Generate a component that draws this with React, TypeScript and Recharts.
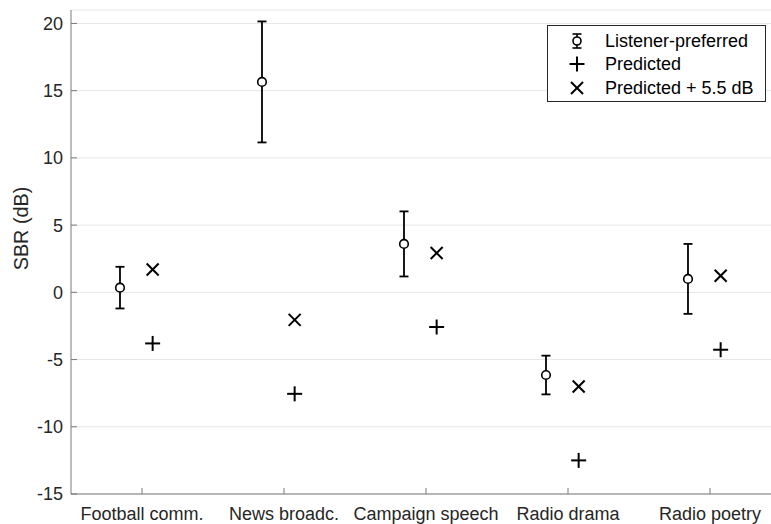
import React from 'react';
import { ScatterChart, Scatter, XAxis, YAxis, CartesianGrid, ErrorBar } from 'recharts';

const categories = ['Football comm.', 'News broadc.', 'Campaign speech', 'Radio drama', 'Radio poetry'];
const listenerPreferred = [0.35, 15.65, 3.6, -6.15, 1.0];
const listenerError = [1.55, 4.5, 2.42, 1.44, 2.6];
const predicted = [-3.8, -7.55, -2.58, -12.5, -4.27];
const predictedPlus = [1.7, -2.05, 2.92, -7.0, 1.23];
const yTicks = [-15, -10, -5, 0, 5, 10, 15, 20];
const xTicks = [1, 2, 3, 4, 5];
const legendLabels = ['Listener-preferred', 'Predicted', 'Predicted + 5.5 dB'];

const LP_OFFSET = -0.155;
const PRED_OFFSET = 0.075;

const lpData = categories.map((c, i) => ({ x: i + 1 + LP_OFFSET, y: listenerPreferred[i], err: listenerError[i] }));
const predData = categories.map((c, i) => ({ x: i + 1 + PRED_OFFSET, y: predicted[i] }));
const plusData = categories.map((c, i) => ({ x: i + 1 + PRED_OFFSET, y: predictedPlus[i] }));

const FONT = '"Liberation Sans", Arial, Helvetica, sans-serif';
const AXIS = '#7a7a7a';
const TEXT = '#262626';

const CircleShape = (p: any) => (
  <circle cx={p.cx} cy={p.cy} r={4.3} fill="#fff" stroke="#000" strokeWidth={1.6} />
);
const PlusShape = (p: any) => (
  <g stroke="#000" strokeWidth={2}>
    <line x1={p.cx - 7.5} y1={p.cy} x2={p.cx + 7.5} y2={p.cy} />
    <line x1={p.cx} y1={p.cy - 7.5} x2={p.cx} y2={p.cy + 7.5} />
  </g>
);
const CrossShape = (p: any) => (
  <g stroke="#000" strokeWidth={2}>
    <line x1={p.cx - 6} y1={p.cy - 6} x2={p.cx + 6} y2={p.cy + 6} />
    <line x1={p.cx - 6} y1={p.cy + 6} x2={p.cx + 6} y2={p.cy - 6} />
  </g>
);

const BottomTick = (props: any) => {
  const { x, y, payload } = props;
  return (
    <g>
      <line x1={x} y1={y} x2={x} y2={y - 6} stroke={AXIS} strokeWidth={1} />
      <text x={x} y={y + 26} textAnchor="middle" fill={TEXT} fontSize={18} fontFamily={FONT}>
        {categories[payload.value - 1]}
      </text>
    </g>
  );
};
const TopTick = (props: any) => {
  const { x, y } = props;
  return <line x1={x} y1={y} x2={x} y2={y + 6} stroke={AXIS} strokeWidth={1} />;
};
const LeftTick = (props: any) => {
  const { x, y, payload } = props;
  return (
    <g>
      <line x1={x} y1={y} x2={x + 6} y2={y} stroke={AXIS} strokeWidth={1} />
      <text x={x - 8} y={y} dy="0.36em" textAnchor="end" fill={TEXT} fontSize={18} fontFamily={FONT}>
        {payload.value}
      </text>
    </g>
  );
};

const LegendIcon = ({ kind }: { kind: number }) => (
  <svg width={20} height={20} style={{ position: 'absolute', left: -10, top: -10 }}>
    {kind === 0 && (
      <g stroke="#000" strokeWidth={1.6}>
        <line x1={10} y1={3} x2={10} y2={17} />
        <line x1={5.5} y1={3} x2={14.5} y2={3} />
        <line x1={5.5} y1={17} x2={14.5} y2={17} />
        <circle cx={10} cy={10} r={4} fill="#fff" />
      </g>
    )}
    {kind === 1 && (
      <g stroke="#000" strokeWidth={2}>
        <line x1={2.5} y1={10} x2={17.5} y2={10} />
        <line x1={10} y1={2.5} x2={10} y2={17.5} />
      </g>
    )}
    {kind === 2 && (
      <g stroke="#000" strokeWidth={2}>
        <line x1={4} y1={4} x2={16} y2={16} />
        <line x1={4} y1={16} x2={16} y2={4} />
      </g>
    )}
  </svg>
);

export default function App() {
  return (
    <div style={{ position: 'fixed', left: 0, top: 0, width: 771, height: 524, overflow: 'hidden', background: '#fff' }}>
      <ScatterChart width={800} height={524} margin={{ top: 10, right: 19, bottom: 0, left: 0 }}>
        <CartesianGrid vertical={false} stroke="#e6e6e6" strokeWidth={1} />
        <XAxis
          type="number"
          dataKey="x"
          domain={[0.5, 5.5]}
          ticks={xTicks}
          interval={0}
          height={30}
          tickSize={0}
          tickMargin={0}
          stroke={AXIS}
          tickLine={false}
          tick={<BottomTick />}
          allowDataOverflow
        />
        <XAxis
          xAxisId="top"
          orientation="top"
          type="number"
          domain={[0.5, 5.5]}
          ticks={xTicks}
          interval={0}
          height={0}
          tickSize={0}
          tickMargin={0}
          stroke={AXIS}
          tickLine={false}
          tick={<TopTick />}
          allowDataOverflow
        />
        <YAxis
          type="number"
          dataKey="y"
          domain={[-15, 21]}
          ticks={yTicks}
          interval={0}
          width={71}
          tickSize={0}
          tickMargin={0}
          stroke={AXIS}
          tickLine={false}
          tick={<LeftTick />}
          allowDataOverflow
          label={{
            content: () => (
              <text
                x={20.5}
                y={228.5}
                transform="rotate(-90 20.5 228.5)"
                textAnchor="middle"
                dy="0.36em"
                fill={TEXT}
                fontSize={19.8}
                fontFamily={FONT}
              >
                SBR (dB)
              </text>
            ),
          }}
        />
        <Scatter name={legendLabels[0]} data={lpData} shape={<CircleShape />} isAnimationActive={false}>
          <ErrorBar dataKey="err" direction="y" width={4.5} stroke="#000" strokeWidth={1.8} isAnimationActive={false} />
        </Scatter>
        <Scatter name={legendLabels[1]} data={predData} shape={<PlusShape />} isAnimationActive={false} />
        <Scatter name={legendLabels[2]} data={plusData} shape={<CrossShape />} isAnimationActive={false} />
      </ScatterChart>
      <div
        style={{
          position: 'absolute',
          left: 547,
          top: 25,
          width: 219,
          height: 77,
          boxSizing: 'border-box',
          border: '1px solid #262626',
          background: '#fff',
          fontFamily: FONT,
          fontSize: 18,
          color: '#000',
        }}
      >
        {legendLabels.map((label, i) => (
          <div key={label} style={{ position: 'absolute', left: 0, top: 14.5 + i * 23.5, width: '100%', height: 0 }}>
            <div style={{ position: 'absolute', left: 29, top: 0 }}>
              <LegendIcon kind={i} />
            </div>
            <div style={{ position: 'absolute', left: 57, top: -11, lineHeight: '22px', whiteSpace: 'nowrap' }}>{label}</div>
          </div>
        ))}
      </div>
    </div>
  );
}
